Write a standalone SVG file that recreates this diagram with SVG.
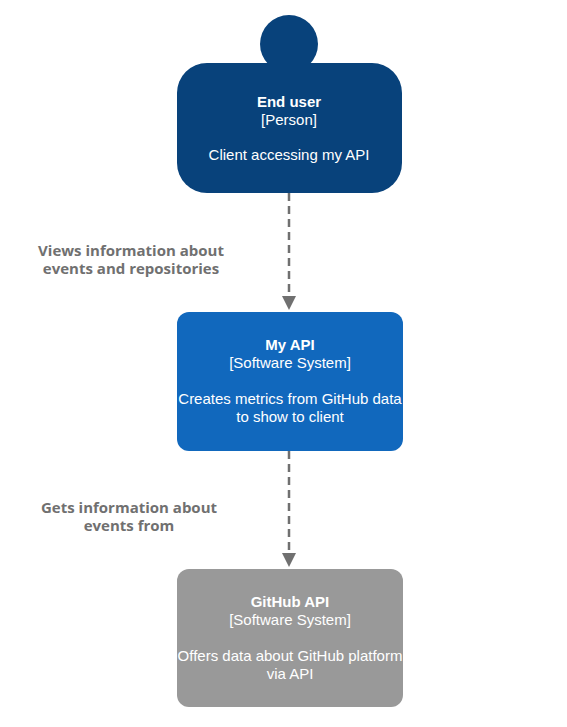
<svg xmlns="http://www.w3.org/2000/svg" width="567" height="727" viewBox="0 0 567 727">
<defs>
<marker id="arr" markerUnits="userSpaceOnUse" markerWidth="16" markerHeight="16" refX="14" refY="7" orient="auto">
<path d="M0,0 L14,7 L0,14 Z" fill="#707070"/>
</marker>
<style>
.nt{font-family:"Liberation Sans",Arial,sans-serif;font-size:15px;fill:#ffffff;text-anchor:middle}
.b{font-weight:bold}
.lbl{font-family:"Open Sans","Noto Sans",sans-serif;font-size:15px;font-weight:bold;fill:#707070;text-anchor:middle}
.edge{stroke:#707070;stroke-width:2.5;stroke-dasharray:8,5;fill:none}
</style>
</defs>
<rect width="567" height="727" fill="#ffffff"/>
<g id="connectors">
<line class="edge" x1="289" y1="193" x2="289" y2="310" marker-end="url(#arr)"/>
<text class="lbl" x="131" y="256">Views information about</text>
<text class="lbl" x="131" y="274">events and repositories</text>
<line class="edge" x1="289" y1="451" x2="289" y2="567" marker-end="url(#arr)"/>
<text class="lbl" x="129" y="513">Gets information about</text>
<text class="lbl" x="129" y="531">events from</text>
</g>
<g id="end-user">
<circle cx="289" cy="44" r="29" fill="#08427b"/>
<rect x="177" y="63" width="225" height="130" rx="30" ry="30" fill="#08427b"/>
<text class="nt b" x="289" y="107">End user</text>
<text class="nt" x="289" y="125">[Person]</text>
<text class="nt" x="289" y="160">Client accessing my API</text>
</g>
<g id="my-api">
<rect x="177" y="312" width="226" height="139" rx="12" ry="12" fill="#1168bd"/>
<text class="nt b" x="290" y="350">My API</text>
<text class="nt" x="290" y="368">[Software System]</text>
<text class="nt" x="290" y="404">Creates metrics from GitHub data</text>
<text class="nt" x="290" y="422">to show to client</text>
</g>
<g id="github-api">
<rect x="177" y="569" width="226" height="138" rx="12" ry="12" fill="#999999"/>
<text class="nt b" x="290" y="607">GitHub API</text>
<text class="nt" x="290" y="625">[Software System]</text>
<text class="nt" x="290" y="661">Offers data about GitHub platform</text>
<text class="nt" x="290" y="679">via API</text>
</g>
</svg>
